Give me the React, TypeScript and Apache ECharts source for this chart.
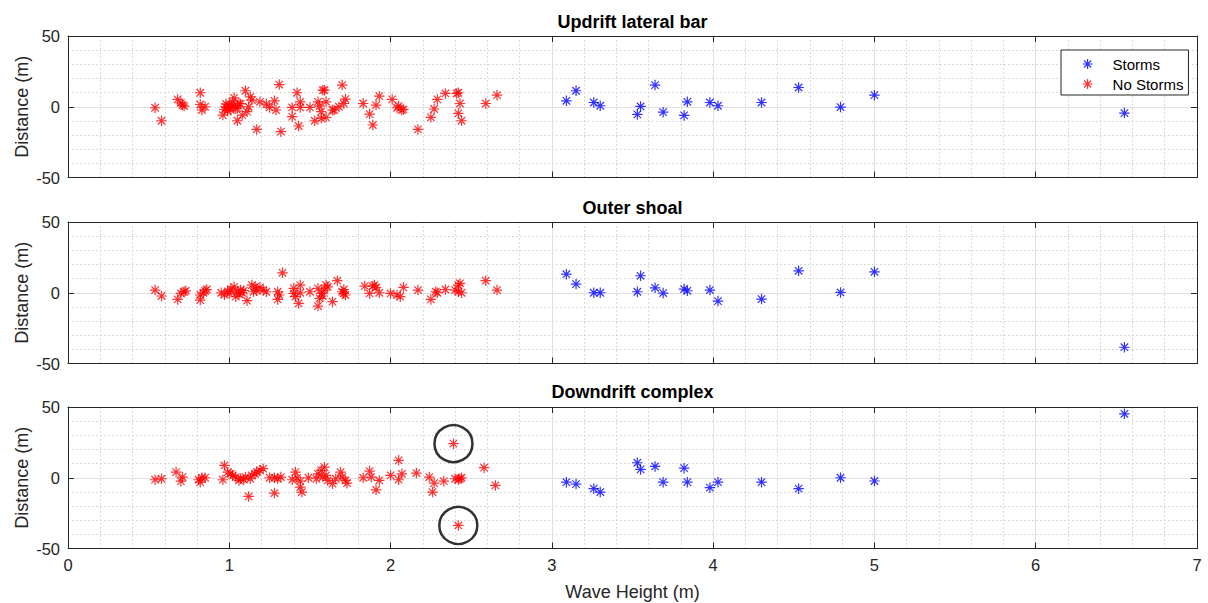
import { useEffect, useRef } from 'react';
import * as echarts from 'echarts';

// ---- Axis ticks ----
const waveTicks = [0, 1, 2, 3, 4, 5, 6, 7];
const distanceTicks = [-50, 0, 50];

// ---- Panel titles ----
const panelTitles = ['Updrift lateral bar', 'Outer shoal', 'Downdrift complex'];

// ---- Storm events (shared wave heights, per-panel distances) ----
const stormWaveHeights = [3.09, 3.15, 3.26, 3.30, 3.53, 3.55, 3.64, 3.69, 3.82, 3.84, 3.98, 4.03, 4.30, 4.53, 4.79, 5.00, 6.55];
const updriftStormDist = [4.2, 11.3, 3.0, 0.7, -5.4, 0.2, 15.3, -3.8, -6.1, 3.5, 3.0, 0.7, 3.0, 13.6, -0.2, 8.2, -4.5];
const outerStormDist = [13.1, 6.1, 0, 0, 0.7, 12.0, 3.5, -0.2, 2.6, 1.4, 1.9, -5.9, -4.5, 15.5, 0.2, 14.8, -38.5];
const downdriftStormDist = [-3.1, -4.5, -7.7, -10.1, 10.6, 5.9, 8.0, -3.1, 6.8, -3.1, -7.0, -3.1, -3.1, -7.7, 0, -2.3, 45.2];

// ---- Non-storm events [wave height, distance] ----
const updriftNoStorms = [
  [0.54, -0.7], [0.58, -9.9], [0.68, 5.2], [0.70, 2.8], [0.71, 1.2], [0.72, 0.5], [0.82, 9.9], [0.82, 1.6], [0.83, -2.3], [0.85, 0],
  [0.96, -5.9], [0.97, -1.9], [0.98, -0.5], [0.98, 2.0], [0.99, -3.0], [1.00, 0], [1.00, 1.5], [1.01, -2.3], [1.02, 3.5], [1.03, 6.3],
  [1.03, 0.5], [1.04, -1.2], [1.05, -9.9], [1.05, -1.0], [1.06, 2.3], [1.07, 2.0], [1.08, -5.9],
  [1.10, 11.3], [1.11, -3.5], [1.12, 0], [1.13, 7.0], [1.14, 4.7], [1.17, -16.0], [1.19, 3.5], [1.23, 1.9], [1.25, -0.5],
  [1.28, 4.2], [1.29, -2.3], [1.31, 15.7], [1.32, -17.6],
  [1.39, -0.5], [1.39, -7.0], [1.42, 9.9], [1.43, -13.6], [1.44, 3.5], [1.44, -0.5], [1.50, -0.5], [1.53, -9.9], [1.55, 3.5],
  [1.56, 0.5], [1.57, -8.2], [1.57, -3.5], [1.58, 11.7], [1.59, 11.7], [1.60, 3.5], [1.60, -7.5],
  [1.64, -2.3], [1.65, -2.3], [1.68, 0], [1.70, 15.3], [1.71, 2.3], [1.72, 5.4],
  [1.83, 2.3], [1.87, -5.2], [1.89, -12.9], [1.91, 1.2], [1.93, 7.5], [2.01, 5.2], [2.04, -0.7], [2.05, 0.5], [2.07, -2.3], [2.08, -1.9],
  [2.17, -16.0], [2.25, -7.5], [2.27, -1.6], [2.29, 5.2], [2.34, 9.4], [2.41, 9.4], [2.42, 9.9], [2.43, 2.3], [2.42, -4.7], [2.44, -9.9],
  [2.59, 2.3], [2.66, 8.2],
];

const outerNoStorms = [
  [0.54, 1.9], [0.58, -2.3], [0.68, -4.7], [0.70, -0.5], [0.72, 0.7], [0.73, 1.4], [0.82, -5.2], [0.82, -1.6], [0.84, 0], [0.85, 1.4], [0.86, 2.3],
  [0.95, 0], [0.97, -1.5], [0.99, 1.0], [1.00, -0.5], [1.01, 2.5], [1.03, 4.2], [1.04, -2.8], [1.05, 0.5], [1.06, -1.0], [1.07, 2.0], [1.08, 0], [1.09, 1.5],
  [1.11, -5.6], [1.14, 5.4], [1.15, 0.7], [1.16, 4.2], [1.17, 1.4], [1.19, 3.8], [1.21, 1.9], [1.23, 0.7],
  [1.30, 0.7], [1.30, -4.7], [1.31, -1.6], [1.33, 14.1], [1.40, 3.1], [1.40, -0.5], [1.41, -2.8], [1.43, -7.5], [1.44, 5.4], [1.44, 0],
  [1.50, 0.7], [1.55, 3.1], [1.56, -4.0], [1.57, -0.5], [1.55, -9.4], [1.58, -2.3], [1.59, 1.9], [1.60, 5.4], [1.61, 4.2], [1.64, -6.3], [1.67, 8.5],
  [1.70, 0.7], [1.71, -0.5], [1.72, -1.6], [1.71, 2.3],
  [1.84, 4.7], [1.87, -0.5], [1.89, 4.7], [1.90, 5.4], [1.91, 3.8], [1.93, 0], [2.00, -0.5], [2.04, -1.6], [2.06, -2.8], [2.08, 3.8],
  [2.17, 1.9], [2.25, -4.7], [2.28, 0.7], [2.29, 0], [2.34, 2.3], [2.40, 1.9], [2.42, 5.4], [2.43, 6.6], [2.42, 0.7], [2.44, 0],
  [2.59, 8.5], [2.66, 1.9],
];

const downdriftNoStorms = [
  [0.54, -1.4], [0.58, -0.7], [0.67, 4.0], [0.70, -2.4], [0.71, 0.5], [0.81, -1.4], [0.82, -3.1], [0.83, 0], [0.85, 0],
  [0.96, -1.4], [0.97, 8.7], [0.99, 4.0], [1.01, 2.8], [1.02, 1.7], [1.04, 0.5], [1.06, -1.9], [1.07, -0.7], [1.09, -1.4], [1.10, 0.5],
  [1.13, -0.7], [1.14, 1.7], [1.16, 2.8], [1.17, 4.0], [1.19, 5.2], [1.21, 6.4], [1.12, -13.2],
  [1.25, 0], [1.28, 0], [1.30, -0.7], [1.32, 0.5], [1.28, -10.8],
  [1.39, -1.4], [1.41, 4.0], [1.42, 0], [1.44, -2.4], [1.44, -6.6], [1.45, -10.1], [1.49, 0],
  [1.54, -0.7], [1.55, 2.8], [1.57, 5.2], [1.58, 0.5], [1.59, 7.5], [1.60, 1.7], [1.61, -1.9], [1.64, -4.2], [1.66, -0.7],
  [1.69, 4.0], [1.70, 0.5], [1.72, -1.9], [1.73, -3.8],
  [1.83, 0], [1.87, 4.7], [1.88, 0.5], [1.91, -8.5], [1.93, -1.9], [2.00, 1.7], [2.05, 12.3], [2.05, -1.4], [2.07, 2.8],
  [2.16, 3.3], [2.24, 0.5], [2.26, -10.1], [2.27, -3.8], [2.33, -2.4], [2.39, 24.1], [2.40, -0.7], [2.42, -1.4], [2.43, -0.7], [2.44, 0],
  [2.42, -33.7], [2.58, 7.1], [2.65, -5.4],
];

// ---- Highlighted (circled) points in the downdrift panel ----
const downdriftCircled = [[2.39, 24.1], [2.42, -33.7]];

const stormDistances = [updriftStormDist, outerStormDist, downdriftStormDist];
const noStormPoints = [updriftNoStorms, outerNoStorms, downdriftNoStorms];

const FONT = '"Liberation Sans", Arial, Helvetica, sans-serif';
const AX = '#262626';
const ASTERISK = 'path://M5,0L5,10M0,5L10,5M1.46,1.46L8.54,8.54M8.54,1.46L1.46,8.54';

const GRID_LEFT = 68;
const GRID_RIGHT = 11;
const gridTops = [36, 222, 407];
const gridHeight = 141.5;
const titleYs = [22, 208, 392];

function buildOption() {
  const xMin = waveTicks[0];
  const xMax = waveTicks[waveTicks.length - 1];
  const xInterval = waveTicks[1] - waveTicks[0];
  const yMin = distanceTicks[0];
  const yMax = distanceTicks[distanceTicks.length - 1];
  const yInterval = distanceTicks[1] - distanceTicks[0];

  const grid = gridTops.map((top) => ({ left: GRID_LEFT, right: GRID_RIGHT, top, height: gridHeight, containLabel: false }));

  const axisLine = { show: true, onZero: false, lineStyle: { color: AX, width: 1 } };
  const axisTick = { show: true, inside: true, length: 6, lineStyle: { color: AX, width: 1 } };
  const splitLine = { show: true, showMinLine: false, showMaxLine: false, lineStyle: { color: '#e0e0e0', width: 1 } };
  const minorSplitLine = { show: true, lineStyle: { color: '#cfcfcf', width: 1, type: [1.5, 2.5] } };
  const labelStyle = { color: AX, fontSize: 16.5, fontFamily: FONT, margin: 8 };

  const xAxis: any[] = [];
  const yAxis: any[] = [];
  for (let i = 0; i < 3; i++) {
    xAxis.push({
      type: 'value', gridIndex: i, position: 'bottom', min: xMin, max: xMax, interval: xInterval,
      axisLine, axisTick, axisLabel: { show: i === 2, ...labelStyle },
      splitLine, minorTick: { show: false, splitNumber: 5 }, minorSplitLine,
    });
  }
  for (let i = 0; i < 3; i++) {
    xAxis.push({
      type: 'value', gridIndex: i, position: 'top', min: xMin, max: xMax, interval: xInterval,
      axisLine, axisTick, axisLabel: { show: false }, splitLine: { show: false },
    });
  }
  for (let i = 0; i < 3; i++) {
    yAxis.push({
      type: 'value', gridIndex: i, position: 'left', min: yMin, max: yMax, interval: yInterval,
      axisLine, axisTick, axisLabel: { show: true, ...labelStyle },
      splitLine, minorTick: { show: false, splitNumber: 5 }, minorSplitLine,
    });
  }
  for (let i = 0; i < 3; i++) {
    yAxis.push({
      type: 'value', gridIndex: i, position: 'right', min: yMin, max: yMax, interval: yInterval,
      axisLine, axisTick, axisLabel: { show: false }, splitLine: { show: false },
    });
  }

  const series: any[] = [];
  for (let i = 0; i < 3; i++) {
    series.push({
      type: 'scatter', name: 'Storms', xAxisIndex: i, yAxisIndex: i,
      data: stormWaveHeights.map((h, k) => [h, stormDistances[i][k]]),
      symbol: ASTERISK, symbolSize: 10.5,
      itemStyle: { color: '#0000ff', borderColor: '#0000ff', borderWidth: 1.2 },
      z: 3,
    });
    series.push({
      type: 'scatter', name: 'No Storms', xAxisIndex: i, yAxisIndex: i,
      data: noStormPoints[i],
      symbol: ASTERISK, symbolSize: 10.5,
      itemStyle: { color: '#ff0000', borderColor: '#ff0000', borderWidth: 1.2 },
      z: 3,
    });
  }
  series.push({
    type: 'scatter', name: 'Flagged', xAxisIndex: 2, yAxisIndex: 2,
    data: downdriftCircled, symbol: 'circle', symbolSize: [38, 37],
    itemStyle: { color: 'rgba(0,0,0,0)', borderColor: '#000', borderWidth: 2.5 },
    silent: true, z: 4,
  });

  const centerX = GRID_LEFT + (1208 - GRID_LEFT - GRID_RIGHT) / 2;
  const graphic: any[] = [];
  panelTitles.forEach((t, i) => {
    graphic.push({
      type: 'text', x: centerX, y: titleYs[i], silent: true,
      style: { text: t, fontSize: 18, fontWeight: 'bold', fontFamily: FONT, fill: '#000', align: 'center', verticalAlign: 'middle' },
    });
    graphic.push({
      type: 'text', x: 22, y: gridTops[i] + gridHeight / 2, rotation: Math.PI / 2, silent: true,
      style: { text: 'Distance (m)', fontSize: 18, fontFamily: FONT, fill: AX, align: 'center', verticalAlign: 'middle' },
    });
  });
  graphic.push({
    type: 'text', x: centerX, y: 592, silent: true,
    style: { text: 'Wave Height (m)', fontSize: 18, fontFamily: FONT, fill: AX, align: 'center', verticalAlign: 'middle' },
  });

  return {
    animation: false,
    backgroundColor: '#ffffff',
    grid, xAxis, yAxis, series, graphic,
    legend: {
      data: ['Storms', 'No Storms'],
      left: 1061, top: 50, orient: 'vertical',
      padding: [6.5, 5, 3.5, 21], itemGap: 5, itemWidth: 40, itemHeight: 10,
      backgroundColor: '#ffffff', borderColor: AX, borderWidth: 1, borderRadius: 0,
      textStyle: { fontSize: 15, color: '#000', fontFamily: FONT, padding: [0, 0, 0, 0] },
      itemStyle: { borderWidth: 1.2 },
      selectedMode: false,
      z: 10,
    },
  };
}

export default function App() {
  const ref = useRef<HTMLDivElement>(null);
  useEffect(() => {
    if (!ref.current) return;
    const chart = echarts.init(ref.current, undefined, { renderer: 'svg' });
    chart.setOption(buildOption() as any);
    return () => chart.dispose();
  }, []);
  return <div ref={ref} style={{ position: 'fixed', left: 0, top: 0, width: 1208, height: 603, background: '#fff' }} />;
}
